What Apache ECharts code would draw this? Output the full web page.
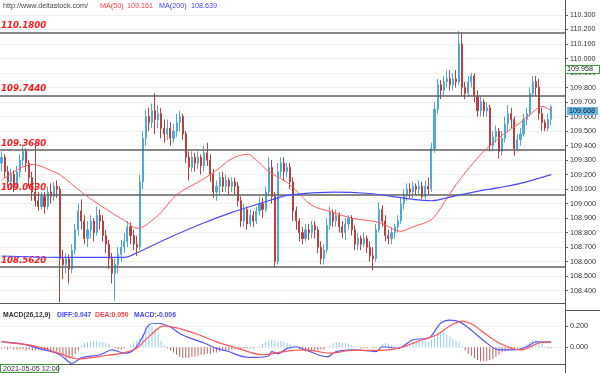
<!DOCTYPE html>
<html><head><meta charset="utf-8">
<script src="https://cdn.jsdelivr.net/npm/echarts@6/dist/echarts.min.js"></script>
<style>html,body{margin:0;padding:0;background:#fff}#c{width:600px;height:373px}</style>
</head><body><div id="c"></div>
<script>
// [open, close, low, high]
const candles = [
[109.28,109.32,109.22,109.36],[109.32,109.22,109.18,109.34],[109.22,109.15,109.12,109.26],[109.15,109.20,109.10,109.24],[109.20,109.12,109.08,109.23],
[109.12,109.22,109.10,109.26],[109.22,109.30,109.18,109.34],[109.30,109.36,109.26,109.40],[109.36,109.28,109.22,109.38],[109.28,109.18,109.12,109.30],
[109.18,109.08,109.02,109.22],[109.08,109.02,108.98,109.40],[109.02,108.98,108.95,109.08],[108.98,109.05,108.96,109.08],[109.05,108.98,108.93,109.08],
[108.98,109.08,108.96,109.12],[109.08,109.05,109.00,109.14],[109.05,109.12,109.02,109.15],[109.12,109.10,109.04,109.16],[109.10,108.62,108.32,109.12],
[108.62,108.58,108.48,108.68],[108.58,108.62,108.52,108.66],[108.62,108.55,108.45,108.65],[108.55,108.68,108.52,108.72],[108.68,108.82,108.65,108.86],
[108.82,108.95,108.78,109.00],[108.95,108.88,108.82,109.03],[108.88,108.76,108.72,108.92],[108.76,108.82,108.70,108.88],[108.82,108.88,108.76,108.92],
[108.88,108.80,108.74,108.90],[108.80,108.92,108.78,108.98],[108.92,108.88,108.82,108.96],[108.88,108.78,108.74,108.92],[108.78,108.72,108.66,108.82],
[108.72,108.62,108.55,108.75],[108.62,108.52,108.45,108.66],[108.52,108.58,108.33,108.62],[108.58,108.65,108.52,108.70],[108.65,108.70,108.60,108.75],
[108.70,108.74,108.66,108.80],[108.74,108.84,108.70,108.88],[108.84,108.78,108.72,108.87],[108.78,108.72,108.68,108.82],[108.72,108.70,108.64,108.78],
[108.70,109.15,108.68,109.20],[109.15,109.45,109.10,109.50],[109.45,109.60,109.40,109.65],[109.60,109.56,109.50,109.66],[109.56,109.64,109.52,109.69],
[109.64,109.58,109.48,109.76],[109.58,109.62,109.52,109.68],[109.62,109.52,109.45,109.66],[109.52,109.48,109.42,109.58],[109.48,109.52,109.44,109.58],
[109.52,109.45,109.40,109.56],[109.45,109.50,109.42,109.55],[109.50,109.56,109.46,109.62],[109.56,109.60,109.50,109.64],[109.60,109.48,109.44,109.62],
[109.48,109.32,109.28,109.50],[109.32,109.25,109.16,109.36],[109.25,109.32,109.22,109.36],[109.32,109.28,109.22,109.35],[109.28,109.32,109.24,109.36],
[109.32,109.26,109.20,109.34],[109.26,109.35,109.22,109.40],[109.35,109.30,109.26,109.42],[109.30,109.20,109.15,109.34],[109.20,109.08,109.04,109.24],
[109.08,109.12,109.02,109.16],[109.12,109.18,109.06,109.22],[109.18,109.12,109.08,109.22],[109.12,109.16,109.08,109.20],[109.16,109.12,109.06,109.18],
[109.12,109.15,109.08,109.18],[109.15,109.12,109.06,109.18],[109.12,109.02,108.98,109.15],[109.02,108.88,108.84,109.05],[108.88,108.96,108.84,109.00],
[108.96,108.86,108.82,108.98],[108.86,108.92,108.84,108.96],[108.92,108.88,108.84,108.95],[108.88,108.95,108.86,108.98],[108.95,109.00,108.92,109.05],
[109.00,108.96,108.90,109.04],[108.96,109.08,108.94,109.12],[109.08,109.25,109.05,109.32],[109.25,109.05,109.00,109.30],[109.05,108.60,108.56,109.08],
[108.60,109.22,108.58,109.28],[109.22,109.28,109.18,109.32],[109.28,109.22,109.16,109.32],[109.22,109.25,109.18,109.28],[109.25,109.15,109.10,109.28],
[109.15,108.95,108.88,109.18],[108.95,108.88,108.82,108.98],[108.88,108.80,108.74,108.90],[108.80,108.76,108.72,108.84],[108.76,108.82,108.74,108.86],
[108.82,108.80,108.75,108.86],[108.80,108.85,108.76,108.88],[108.85,108.82,108.76,108.88],[108.82,108.70,108.66,108.84],[108.70,108.62,108.58,108.74],
[108.62,108.68,108.58,108.72],[108.68,108.85,108.66,108.90],[108.85,108.94,108.82,108.98],[108.94,108.88,108.84,108.96],[108.88,108.92,108.84,108.96],
[108.92,108.84,108.80,108.94],[108.84,108.80,108.76,108.88],[108.80,108.86,108.75,108.90],[108.86,108.90,108.82,108.92],[108.90,108.82,108.78,108.92],
[108.82,108.72,108.68,108.85],[108.72,108.76,108.68,108.80],[108.76,108.72,108.68,108.78],[108.72,108.76,108.70,108.80],[108.76,108.70,108.66,108.78],
[108.70,108.64,108.60,108.74],[108.64,108.62,108.54,108.70],[108.62,108.82,108.60,108.86],[108.82,108.96,108.80,109.01],[108.96,108.88,108.84,108.99],
[108.88,108.78,108.74,108.92],[108.78,108.76,108.72,108.82],[108.76,108.80,108.72,108.84],[108.80,108.84,108.76,108.86],[108.84,108.88,108.80,108.92],
[108.88,109.00,108.86,109.04],[109.00,109.06,108.96,109.10],[109.06,109.10,109.02,109.14],[109.10,109.08,109.04,109.14],[109.08,109.12,109.04,109.15],
[109.12,109.10,109.06,109.14],[109.10,109.12,109.06,109.16],[109.12,109.05,109.03,109.15],[109.05,109.12,109.03,109.16],[109.12,109.10,109.06,109.18],
[109.10,109.38,109.08,109.42],[109.38,109.65,109.35,109.70],[109.65,109.82,109.62,109.86],[109.82,109.78,109.72,109.85],[109.78,109.84,109.74,109.88],
[109.84,109.86,109.80,109.92],[109.86,109.82,109.78,109.92],[109.82,109.86,109.78,109.90],[109.86,109.84,109.80,109.92],[109.84,110.10,109.82,110.19],
[110.10,109.80,109.74,110.18],[109.80,109.76,109.72,109.84],[109.76,109.84,109.74,109.88],[109.84,109.88,109.80,109.90],[109.88,109.74,109.70,109.90],
[109.74,109.64,109.60,109.78],[109.64,109.70,109.60,109.74],[109.70,109.64,109.60,109.72],[109.64,109.66,109.60,109.70],[109.66,109.40,109.36,109.68],
[109.40,109.46,109.36,109.50],[109.46,109.50,109.42,109.54],[109.50,109.36,109.31,109.52],[109.36,109.45,109.33,109.50],[109.45,109.55,109.42,109.60],
[109.55,109.62,109.50,109.68],[109.62,109.58,109.52,109.66],[109.58,109.38,109.33,109.60],[109.38,109.44,109.36,109.48],[109.44,109.48,109.40,109.52],
[109.48,109.58,109.46,109.62],[109.58,109.62,109.54,109.66],[109.62,109.76,109.60,109.80],[109.76,109.84,109.74,109.88],[109.84,109.80,109.74,109.88],
[109.80,109.62,109.58,109.86],[109.62,109.56,109.50,109.66],[109.56,109.52,109.50,109.58],[109.52,109.58,109.50,109.62],[109.58,109.668,109.54,109.68]
];
// moving averages read at key bars: [barIndex, value]
const ma50Points = [[0,109.16],[10,109.27],[17,109.22],[19,109.20],[26,109.08],[32,108.99],[41,108.87],[44,108.83],[51,108.92],[57,109.06],[65,109.16],[70,109.23],[75,109.31],[80,109.34],[84,109.28],[87,109.22],[92,109.16],[95,109.11],[101,108.99],[108,108.94],[114,108.90],[123,108.87],[130,108.81],[134,108.84],[140,108.89],[143,108.97],[148,109.13],[154,109.29],[158,109.38],[163,109.47],[169,109.56],[173,109.63],[176,109.67],[179,109.64]];
const ma200Points = [[0,108.639],[19,108.63],[32,108.63],[40,108.63],[44,108.66],[54,108.76],[65,108.86],[75,108.94],[81,108.98],[87,109.02],[94,109.06],[108,109.08],[120,109.07],[127,109.05],[134,109.03],[140,109.02],[147,109.05],[156,109.09],[162,109.11],[169,109.14],[179,109.20]];
const levelValues = [110.18, 109.744, 109.368, 109.063, 108.562];
const diffPoints = [[0,0.05],[7,0.03],[12,-0.01],[16,-0.04],[19,-0.07],[22,-0.14],[23,-0.15],[26,-0.10],[32,-0.07],[36,-0.025],[40,-0.055],[43,-0.025],[46,0.10],[48,0.21],[51,0.225],[55,0.19],[58,0.13],[61,0.09],[66,0.04],[70,-0.01],[74,-0.04],[79,-0.09],[83,-0.095],[87,-0.08],[88,-0.04],[90,-0.06],[93,-0.01],[96,0.005],[99,-0.025],[106,-0.09],[109,-0.04],[115,-0.025],[122,-0.04],[124,0.005],[129,-0.01],[134,0.07],[139,0.085],[143,0.225],[146,0.255],[149,0.24],[153,0.16],[158,0.04],[162,-0.025],[167,-0.025],[171,0.005],[174,0.05],[179,0.047]];
const deaPoints = [[0,0.05],[12,0.005],[19,-0.06],[25,-0.11],[32,-0.085],[40,-0.05],[44,-0.01],[48,0.10],[53,0.20],[58,0.175],[64,0.12],[70,0.05],[77,-0.01],[85,-0.07],[92,-0.04],[99,-0.025],[107,-0.055],[114,-0.03],[122,-0.03],[129,-0.01],[137,0.07],[142,0.12],[146,0.20],[150,0.245],[153,0.22],[156,0.16],[162,0.04],[169,-0.025],[175,0.04],[179,0.05]];
const macdHist = [
-0.01,-0.01,-0.02,-0.01,-0.02,-0.02,-0.02,
-0.02,-0.03,-0.02,-0.03,-0.03,-0.02,-0.03,-0.03,
-0.02,-0.03,-0.03,-0.04,
-0.05,-0.08,-0.10,-0.10,-0.09,
-0.06,-0.03,
0.02,0.04,0.05,0.05,0.06,0.06,0.05,0.05,0.04,0.03,
0.01,-0.01,-0.02,-0.02,-0.01,0.00,
0.02,0.04,0.06,0.09,
0.12,0.18,0.21,0.20,0.17,0.12,
0.06,0.02,-0.01,-0.03,
-0.05,-0.07,-0.09,-0.10,-0.10,-0.10,-0.09,-0.09,-0.08,-0.07,-0.07,-0.06,-0.06,-0.05,-0.05,-0.04,
-0.03,-0.03,-0.03,-0.02,-0.02,-0.02,-0.02,-0.01,-0.01,-0.01,-0.01,0.00,0.01,0.03,
0.05,0.06,0.07,0.06,0.05,0.06,0.05,0.04,0.03,0.02,
0.00,
-0.02,-0.03,-0.04,-0.04,-0.04,-0.03,-0.03,-0.02,-0.02,
0.00,
0.02,0.04,0.05,0.05,0.04,0.04,0.03,0.02,0.01,
0.00,-0.01,-0.01,-0.01,0.00,-0.01,-0.01,0.01,
0.03,0.04,0.03,0.02,0.01,
0.00,0.01,0.02,0.03,0.04,
0.05,0.05,0.06,0.06,0.05,0.05,0.07,0.10,0.13,0.15,0.14,
0.12,0.10,0.08,0.06,0.05,0.01,
-0.03,-0.06,-0.08,-0.10,-0.12,-0.13,-0.13,-0.13,-0.12,-0.11,-0.09,-0.07,-0.05,-0.04,
-0.03,-0.02,-0.02,-0.01,0.00,0.01,
0.03,0.05,0.07,0.07,0.05,0.03,0.01,
-0.01,-0.006
];
const priceAxisMin = 108.3, priceAxisMax = 110.4, priceStep = 0.1;
const macdAxisMin = -0.2, macdAxisMax = 0.4, macdStep = 0.2;
const crossPrice = 109.958, lastPrice = 109.668;
const crossTimeLabel = '2021-05-05 12:00';
const siteText = 'http://www.deltastock.com/';
const maLegend = [['MA(50)', '109.161'], ['MA(200)', '108.639']];
const macdLegend = ['MACD(26,12,9)', 'DIFF:0.047', 'DEA:0.050', 'MACD:-0.006'];

const emptyBarsRight = 4;
const cats = [];
for (let i = 0; i < candles.length + emptyBarsRight; i++) cats.push(String(i));

const UP = '#4fa9dd', DOWN = '#b9403c';
const FONT = '"Liberation Sans", Arial, sans-serif';
const chart = echarts.init(document.getElementById('c'), null, {renderer: 'canvas'});

const option = {
  animation: false,
  backgroundColor: '#fff',
  grid: [
    {left: 0, right: 35, top: 0.5, height: 304.7},
    {left: 0, right: 35, top: 304.6, height: 64}
  ],
  xAxis: [
    {type: 'category', gridIndex: 0, data: cats, show: false, boundaryGap: true},
    {type: 'category', gridIndex: 1, data: cats, show: false, boundaryGap: true}
  ],
  yAxis: [
    {type: 'value', gridIndex: 0, position: 'right', min: priceAxisMin, max: priceAxisMax, interval: priceStep,
     axisLine: {show: false},
     axisTick: {show: true, length: 3, lineStyle: {color: '#666'}},
     axisLabel: {show: true, margin: 5, fontSize: 7.2, color: '#333', fontFamily: FONT,
       showMinLabel: false, showMaxLabel: false, formatter: v => v.toFixed(3)},
     splitLine: {show: true, showMinLine: false, showMaxLine: false, lineStyle: {color: '#efefef', width: 1}}},
    {type: 'value', gridIndex: 1, position: 'right', min: macdAxisMin, max: macdAxisMax, interval: macdStep,
     axisLine: {show: false},
     axisTick: {show: true, length: 3, lineStyle: {color: '#666'}},
     axisLabel: {show: true, margin: 5, fontSize: 7.2, color: '#333', fontFamily: FONT,
       showMinLabel: false, showMaxLabel: false, formatter: v => v.toFixed(3)},
     splitLine: {show: true, showMinLine: false, showMaxLine: false, lineStyle: {color: '#f2f2f2', width: 1}}}
  ],
  series: [
    {type: 'candlestick', xAxisIndex: 0, yAxisIndex: 0, data: candles, barWidth: 1.6,
     itemStyle: {color: UP, color0: DOWN, borderColor: UP, borderColor0: DOWN, borderWidth: 1},
     markLine: {symbol: 'none', silent: true, animation: false, precision: 4,
       lineStyle: {color: '#606060', width: 1.5, type: 'solid'},
       label: {show: true, position: 'insideStartTop', distance: [1, 2],
         formatter: p => p.name, color: '#ff1a1a', fontStyle: 'italic', fontWeight: 'bold',
         fontSize: 8.6, fontFamily: '"DejaVu Sans", sans-serif'},
       emphasis: {disabled: true},
       data: levelValues.map(v => ({yAxis: v, name: v.toFixed(4)}))}},
    {type: 'line', xAxisIndex: 0, yAxisIndex: 0, data: ma50Points, smooth: 0.35, showSymbol: false, silent: true,
     lineStyle: {color: '#ff5a5a', width: 1}, z: 5},
    {type: 'line', xAxisIndex: 0, yAxisIndex: 0, data: ma200Points, smooth: 0.35, showSymbol: false, silent: true,
     lineStyle: {color: '#4b4bff', width: 1.2}, z: 5},
    {type: 'bar', xAxisIndex: 1, yAxisIndex: 1, data: macdHist, barWidth: 1, silent: true,
     itemStyle: {color: p => p.value >= 0 ? '#94caec' : '#c06060'}},
    {type: 'line', xAxisIndex: 1, yAxisIndex: 1, data: diffPoints, smooth: 0.35, showSymbol: false, silent: true,
     lineStyle: {color: '#5555ff', width: 1.2}, z: 5},
    {type: 'line', xAxisIndex: 1, yAxisIndex: 1, data: deaPoints, smooth: 0.35, showSymbol: false, silent: true,
     lineStyle: {color: '#ff5555', width: 1.2}, z: 5}
  ]
};
chart.setOption(option);

const lineStyle = {stroke: '#555', lineWidth: 1};
const g = [];
// pane frames
g.push({type: 'line', shape: {x1: 565.5, y1: 0, x2: 565.5, y2: 373}, style: lineStyle, z: 50});
g.push({type: 'line', shape: {x1: 0, y1: 303.5, x2: 565.5, y2: 303.5}, style: lineStyle, z: 50});
g.push({type: 'line', shape: {x1: 565.5, y1: 310.5, x2: 600, y2: 310.5}, style: lineStyle, z: 50});
g.push({type: 'line', shape: {x1: 0, y1: 364.5, x2: 565.5, y2: 364.5}, style: lineStyle, z: 50});
// header texts
g.push({type: 'text', x: 3, y: 6, style: {text: siteText, fill: '#444', font: '7.2px ' + FONT, verticalAlign: 'middle'}, z: 60});
const maColors = ['#ff3b3b', '#4040ff'];
const maX = [[100, 127], [159, 191]];
maLegend.forEach((m, i) => {
  g.push({type: 'text', x: maX[i][0], y: 6, style: {text: m[0], fill: maColors[i], font: '7.2px ' + FONT, verticalAlign: 'middle'}, z: 60});
  g.push({type: 'text', x: maX[i][1], y: 6, style: {text: m[1], fill: maColors[i], font: '7.2px ' + FONT, verticalAlign: 'middle'}, z: 60});
});
// MACD legend
const macdColors = ['#333', '#4545ff', '#ff4040', '#4545ff'];
const macdX = [3, 57, 95, 134];
macdLegend.forEach((t, i) => {
  g.push({type: 'text', x: macdX[i], y: 315, style: {text: t, fill: macdColors[i], font: 'bold 6.8px ' + FONT, verticalAlign: 'middle'}, z: 60});
});
// price boxes on right axis
const yc = chart.convertToPixel({yAxisIndex: 0}, crossPrice);
g.push({type: 'rect', shape: {x: 565.5, y: Math.round(yc) + 0.5, width: 34, height: 8}, style: {fill: '#fff', stroke: '#3a9a3a', lineWidth: 1}, z: 70});
g.push({type: 'text', x: 567, y: Math.round(yc) + 4.5, style: {text: crossPrice.toFixed(3), fill: '#222', font: '7.2px ' + FONT, verticalAlign: 'middle'}, z: 71});
const yl = chart.convertToPixel({yAxisIndex: 0}, lastPrice);
g.push({type: 'rect', shape: {x: 567, y: Math.round(yl), width: 31, height: 8}, style: {fill: '#62b7e8'}, z: 70});
g.push({type: 'text', x: 569, y: Math.round(yl) + 4, style: {text: lastPrice.toFixed(3), fill: '#222', font: '7.2px ' + FONT, verticalAlign: 'middle'}, z: 71});
// time label box
g.push({type: 'rect', shape: {x: 0.5, y: 364.5, width: 58, height: 8}, style: {fill: '#fff', stroke: '#3a9a3a', lineWidth: 1}, z: 70});
g.push({type: 'text', x: 3, y: 369, style: {text: crossTimeLabel, fill: '#333', font: '7.2px ' + FONT, verticalAlign: 'middle'}, z: 71});
chart.setOption({graphic: g});
</script></body></html>
